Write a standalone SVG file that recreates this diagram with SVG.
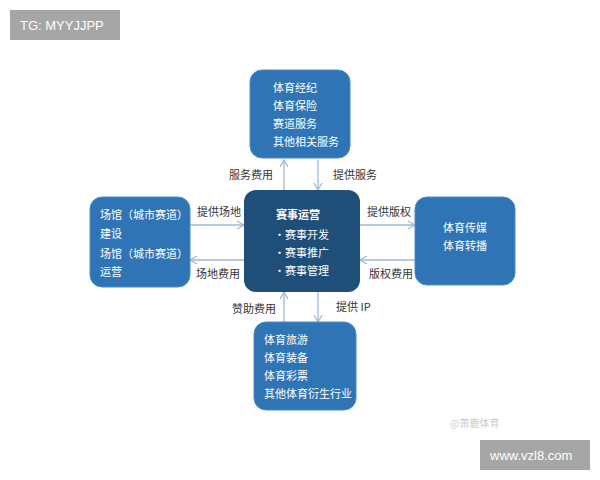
<svg xmlns="http://www.w3.org/2000/svg" width="600" height="480" viewBox="0 0 600 480">
<style>
.box{fill:#2f75b5;stroke:#4a8ccc;stroke-width:1}
.c{fill:#1f4e79}
.t{font-family:"Noto Sans CJK SC",sans-serif;font-size:11px;fill:#fff}
.l{font-family:"Noto Sans CJK SC",sans-serif;font-size:11px;fill:#333}
.ln{stroke:#9fb8d0;stroke-width:1.3;fill:none;marker-end:url(#a)}
</style>
<defs><marker id="a" markerWidth="10" markerHeight="10" refX="8" refY="5" orient="auto" markerUnits="userSpaceOnUse"><path d="M1,1 L8,5 L1,9" fill="none" stroke="#9fb8d0" stroke-width="1.3"/></marker></defs>
<rect width="600" height="480" fill="#fff"/>
<g id="wm1"><rect x="10" y="10" width="110" height="30" fill="#a6a6a6"/><text x="20" y="30" font-family="Liberation Sans,sans-serif" font-size="13" fill="#fff">TG: MYYJJPP</text></g>
<g id="wm2"><rect x="480" y="440" width="110" height="30" fill="#a6a6a6"/><text x="490" y="460" font-family="Liberation Sans,sans-serif" font-size="13" fill="#fff">www.vzl8.com</text></g>
<text x="450" y="427" font-family="Noto Sans CJK SC,sans-serif" font-size="10" fill="#ccc">@萧鹿体育</text>
<g id="connectors">
<path class="ln" d="M284,190 V160"/><path class="ln" d="M318,160 V190"/>
<path class="ln" d="M190,225 H244"/><path class="ln" d="M244,260 H190"/>
<path class="ln" d="M360,225 H415"/><path class="ln" d="M415,260 H360"/>
<path class="ln" d="M284,322 V292"/><path class="ln" d="M318,292 V322"/>
<text class="l" x="229" y="179">服务费用</text><text class="l" x="333" y="179">提供服务</text>
<text class="l" x="197" y="216">提供场地</text><text class="l" x="196" y="278">场地费用</text>
<text class="l" x="367" y="216">提供版权</text><text class="l" x="369" y="278">版权费用</text>
<text class="l" x="232" y="313">赞助费用</text><text class="l" x="336" y="311">提供 IP</text>
</g>
<g id="top"><rect class="box" x="250" y="70" width="100" height="88" rx="12"/>
<text class="t" x="273" y="92">体育经纪</text><text class="t" x="273" y="110">体育保险</text><text class="t" x="273" y="128">赛道服务</text><text class="t" x="273" y="146">其他相关服务</text></g>
<g id="center"><rect class="c" x="244" y="190" width="116" height="102" rx="12"/>
<text class="t" x="276" y="219" font-size="13" font-weight="bold">赛事运营</text>
<text class="t" x="274" y="239" font-size="12">·赛事开发</text><text class="t" x="274" y="257" font-size="12">·赛事推广</text><text class="t" x="274" y="275" font-size="12">·赛事管理</text></g>
<g id="left"><rect class="box" x="90" y="197" width="100" height="90" rx="12"/>
<text class="t" x="100" y="219">场馆（城市赛道）</text><text class="t" x="100" y="238">建设</text><text class="t" x="100" y="258">场馆（城市赛道）</text><text class="t" x="100" y="276">运营</text></g>
<g id="right"><rect class="box" x="415" y="197" width="100" height="88" rx="12"/>
<text class="t" x="443" y="232">体育传媒</text><text class="t" x="443" y="250">体育转播</text></g>
<g id="bottom"><rect class="box" x="254" y="322" width="102" height="88" rx="12"/>
<text class="t" x="264" y="344">体育旅游</text><text class="t" x="264" y="362">体育装备</text><text class="t" x="264" y="380">体育彩票</text><text class="t" x="264" y="398">其他体育衍生行业</text></g>
</svg>
